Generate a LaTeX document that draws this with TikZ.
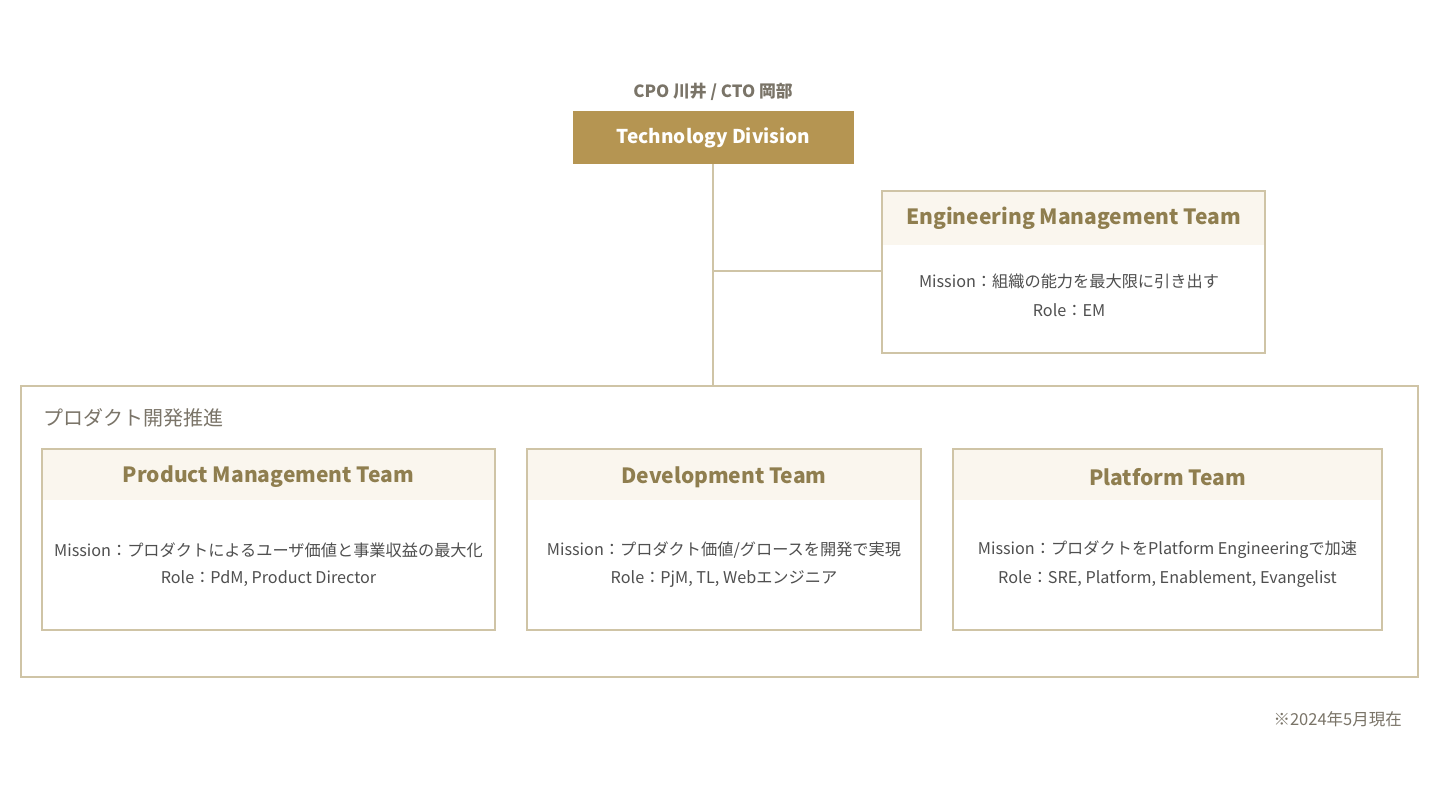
\documentclass[tikz,border=0pt]{standalone}
\usepackage{fontspec}
\setmainfont{Noto Sans CJK JP}
\definecolor{gold}{HTML}{B59552}
\definecolor{tan}{HTML}{CFC4A6}
\definecolor{cream}{HTML}{FAF6EE}
\definecolor{titlec}{HTML}{8F7E4F}
\definecolor{txt}{HTML}{4F4F4F}
\definecolor{lbl}{HTML}{7A7468}
\newcommand{\fs}[1]{\fontsize{#1}{#1}\selectfont}
\begin{document}
\begin{tikzpicture}[x=1pt,y=-1pt,
  team/.style={draw=tan, line width=1.3pt, fill=white},
  band/.style={fill=cream, draw=none},
  ttl/.style={text=titlec, font=\fs{21}\bfseries, anchor=center},
  body/.style={text=txt, font=\fs{16.2}, anchor=center},
  conn/.style={draw=tan, line width=1.3pt}]
\fill[white] (0,0) rectangle (1440,810);
\useasboundingbox (0,0) rectangle (1440,810);

% top
\node[text=lbl, font=\fs{16.8}\bfseries] (cpo) at (713,92) {CPO 川井 / CTO 岡部};
\fill[gold] (573,111) rectangle (854,164);
\node[text=white, font=\fs{19}\bfseries, inner sep=0pt, minimum width=281pt, minimum height=53pt] (td) at (713.5,137.5) {Technology Division};

% EM team
\draw[team] (882,191) rectangle (1265,353);
\fill[band] (883,192) rectangle (1264,245);
\node[inner sep=0pt, minimum width=383pt, minimum height=162pt] (em) at (1073.5,272) {};
\node[ttl] (emt) at (1073.5,218) {Engineering Management Team};
\node[body] (emm) at (1069,281) {Mission：組織の能力を最大限に引き出す};
\node[body] (emr) at (1069,310) {Role：EM};

% outer box
\draw[conn] (21,386) rectangle (1418,677);
\node[inner sep=0pt, minimum width=1397pt, minimum height=291pt] (pd) at (719.5,531.5) {};
\node[text=lbl, font=\fs{20}, anchor=west, inner sep=0pt] (pdl) at (43,418) {プロダクト開発推進};

% connectors
\coordinate (j) at (713,271);
\draw[conn] (td.south -| j) -- (j |- pd.north);
\draw[conn] (j) -- (j -| em.west);

% teams
\foreach \nm/\xa/\xb/\t/\m/\r in {
  pm/42/495/Product Management Team/{Mission：プロダクトによるユーザ価値と事業収益の最大化}/{Role：PdM, Product Director},
  dev/527/921/Development Team/{Mission：プロダクト価値/グロースを開発で実現}/{Role：PjM, TL, Webエンジニア},
  pf/953/1382/Platform Team/{Mission：プロダクトをPlatform Engineeringで加速}/{Role：SRE, Platform, Enablement, Evangelist}}{
  \draw[team] (\xa,449) rectangle (\xb,630);
  \fill[band] (\xa+1,450) rectangle (\xb-1,500);
  \node[ttl] (\nm t) at ({(\xa+\xb)/2},477) {\t};
  \node[body] (\nm m) at ({(\xa+\xb)/2},550) {\m};
  \node[body] (\nm r) at ({(\xa+\xb)/2},579) {\r};
}

\node[text=lbl, font=\fs{16.5}, anchor=east, inner sep=0pt] (note) at (1402,719) {※2024年5月現在};
\end{tikzpicture}
\end{document}
